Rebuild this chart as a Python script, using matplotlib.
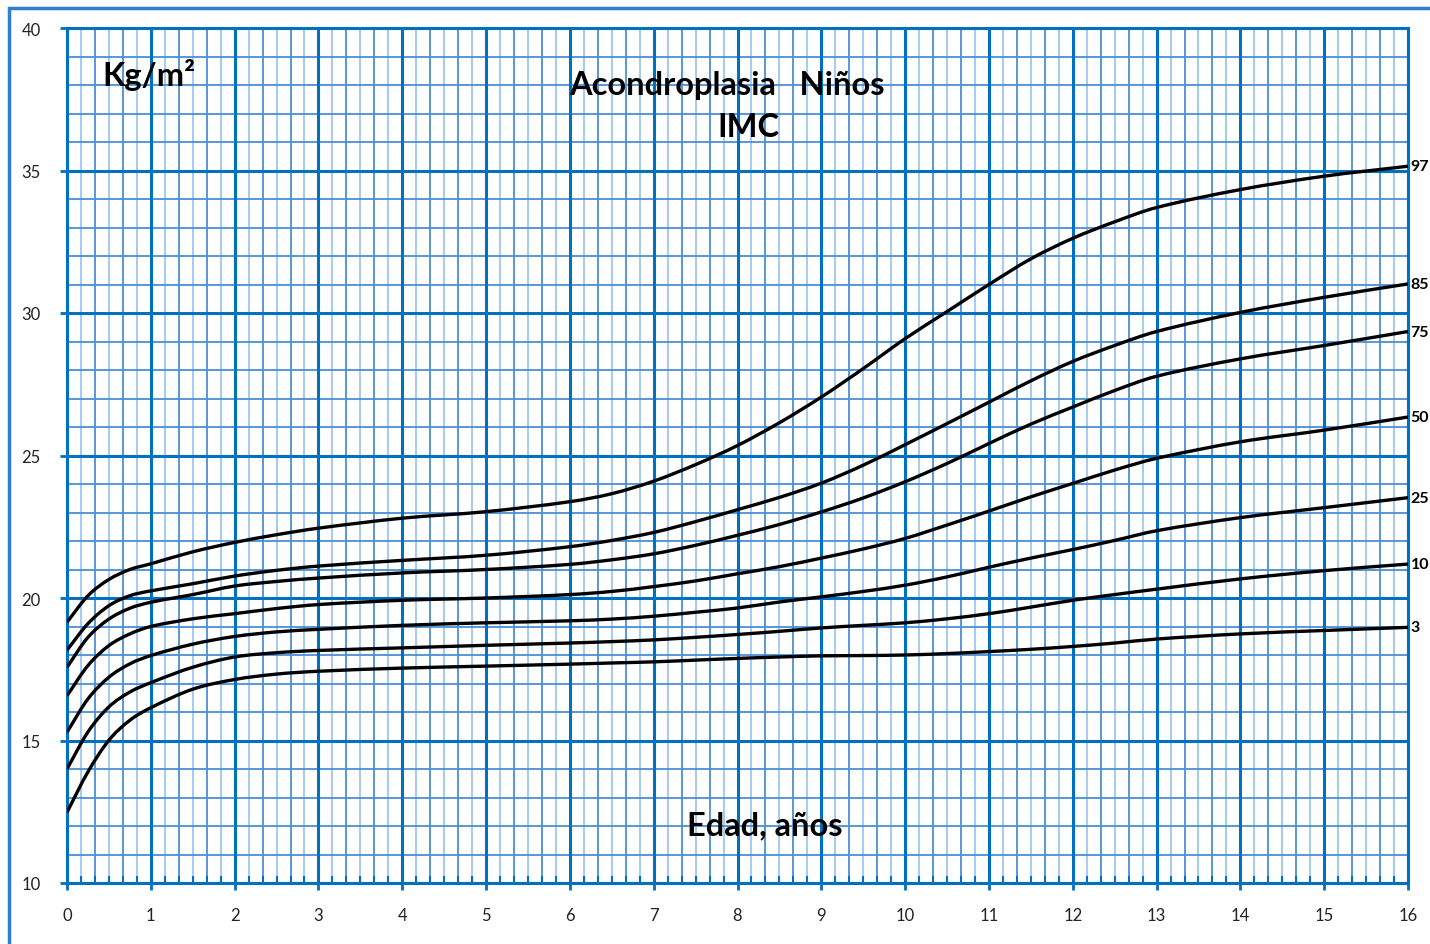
import numpy as np
import matplotlib
matplotlib.use("Agg")
import matplotlib.pyplot as plt
from matplotlib.patches import Rectangle, PathPatch
from matplotlib.path import Path

plt.rcParams['font.family'] = ['Lato', 'DejaVu Sans']

# edad (años)
ages = [0, 0.25, 0.5, 0.75, 1, 1.5, 2, 2.5, 3, 4, 5, 6, 6.5, 7, 7.5, 8, 8.5,
        9, 9.5, 10, 10.5, 11, 11.5, 12, 12.5, 13, 14, 15, 16]

# IMC por percentil
p97 = [19.15, 20.08, 20.65, 21.0, 21.2, 21.62, 21.95, 22.22, 22.45, 22.8, 23.03,
       23.38, 23.66, 24.1, 24.68, 25.35, 26.15, 27.05, 28.05, 29.1, 30.05, 31.0,
       31.9, 32.62, 33.2, 33.7, 34.33, 34.8, 35.15]
p85 = [18.17, 19.1, 19.73, 20.08, 20.25, 20.5, 20.77, 20.97, 21.12, 21.32, 21.5,
       21.8, 22.02, 22.3, 22.68, 23.1, 23.53, 24.03, 24.66, 25.38, 26.12, 26.87,
       27.62, 28.3, 28.86, 29.35, 30.02, 30.55, 31.02]
p75 = [17.57, 18.62, 19.26, 19.64, 19.85, 20.12, 20.42, 20.58, 20.7, 20.88, 21.0,
       21.18, 21.34, 21.55, 21.85, 22.2, 22.58, 23.02, 23.51, 24.08, 24.72, 25.42,
       26.1, 26.7, 27.28, 27.78, 28.39, 28.86, 29.35]
p50 = [16.57, 17.63, 18.33, 18.74, 19.0, 19.27, 19.45, 19.63, 19.77, 19.92, 20.0,
       20.12, 20.23, 20.4, 20.6, 20.85, 21.1, 21.4, 21.72, 22.09, 22.56, 23.05,
       23.55, 24.02, 24.49, 24.9, 25.48, 25.89, 26.35]
p25 = [15.29, 16.46, 17.22, 17.69, 17.98, 18.38, 18.65, 18.81, 18.9, 19.04, 19.13,
       19.2, 19.26, 19.36, 19.5, 19.65, 19.86, 20.04, 20.23, 20.45, 20.74, 21.08,
       21.4, 21.7, 22.02, 22.36, 22.82, 23.17, 23.52]
p10 = [14.0, 15.3, 16.18, 16.7, 17.03, 17.57, 17.93, 18.08, 18.16, 18.25, 18.34,
       18.42, 18.47, 18.53, 18.62, 18.72, 18.83, 18.95, 19.04, 19.13, 19.27, 19.45,
       19.68, 19.92, 20.12, 20.31, 20.67, 20.96, 21.19]
p3 = [12.48, 13.9, 15.01, 15.71, 16.15, 16.8, 17.14, 17.33, 17.43, 17.54, 17.61,
      17.68, 17.72, 17.76, 17.82, 17.88, 17.93, 17.97, 17.98, 18.0, 18.05, 18.12,
      18.2, 18.3, 18.42, 18.56, 18.74, 18.86, 18.97]

curves = [p3, p10, p25, p50, p75, p85, p97]
labels = ['3', '10', '25', '50', '75', '85', '97']

blue = '#0070C0'
mid_blue = '#4A8FD6'
light_blue = '#A9CBEE'


def smooth_path(xs, ys):
    # bezier cúbica (hermite) que pasa por los puntos leídos
    x = np.asarray(xs, float)
    y = np.asarray(ys, float)
    n = len(x)
    m = np.empty(n)
    m[0] = (y[1] - y[0]) / (x[1] - x[0])
    m[-1] = (y[-1] - y[-2]) / (x[-1] - x[-2])
    for i in range(1, n - 1):
        m[i] = (y[i + 1] - y[i - 1]) / (x[i + 1] - x[i - 1])
    verts = [(x[0], y[0])]
    codes = [Path.MOVETO]
    for i in range(n - 1):
        h = x[i + 1] - x[i]
        verts += [(x[i] + h / 3, y[i] + m[i] * h / 3),
                  (x[i + 1] - h / 3, y[i + 1] - m[i + 1] * h / 3),
                  (x[i + 1], y[i + 1])]
        codes += [Path.CURVE4] * 3
    return Path(verts, codes)


fig = plt.figure(figsize=(14.3, 9.45), dpi=100)
ax = fig.add_axes([67/1430, 61/945, 1341/1430, 855/945])
ax.set_xlim(0, 16)
ax.set_ylim(10, 40)

# papel milimetrado
for i in range(16*6 + 1):
    x = i / 6
    if i % 6 == 0:
        ax.axvline(x, color=blue, lw=2.2, zorder=1)
    elif i % 2 == 0:
        ax.axvline(x, color=mid_blue, lw=1.3, zorder=0)
    else:
        ax.axvline(x, color=light_blue, lw=1.5, zorder=0)
for y in range(10, 41):
    if y % 5 == 0:
        ax.axhline(y, color=blue, lw=2.2, zorder=1)
    else:
        ax.axhline(y, color=mid_blue, lw=1.3, zorder=0)

for vals, lab in zip(curves, labels):
    ax.add_patch(PathPatch(smooth_path(ages, vals), fill=False,
                           edgecolor='black', lw=2.4, zorder=3))
    ax.text(16.03, vals[-1], lab, fontsize=11.5, fontweight='bold',
            ha='left', va='center', clip_on=False)

for s in ax.spines.values():
    s.set_color(blue)
    s.set_linewidth(2.2)

ax.set_xticks(range(17))
ax.set_xticks(np.arange(0, 16.01, 1/6), minor=True)
ax.set_yticks(range(10, 41, 5))
ax.tick_params(axis='x', which='major', direction='inout', length=10, width=2,
               color=blue, pad=12, labelsize=12, labelcolor='#222222')
ax.tick_params(axis='x', which='minor', direction='in', length=5, width=1.5,
               color=blue)
ax.tick_params(axis='y', which='major', direction='out', length=5, width=2,
               color=blue, pad=14, labelsize=12, labelcolor='#222222')

ax.text(0.42, 38.4, 'Kg/m²', fontsize=23.5, fontweight='bold', ha='left',
        va='center', zorder=5)
ax.text(7.87, 38.03, 'Acondroplasia   Niños', fontsize=23.5, fontweight='bold',
        ha='center', va='center', zorder=5)
ax.text(8.13, 36.56, 'IMC', fontsize=23.5, fontweight='bold', ha='center',
        va='center', zorder=5)
ax.text(8.33, 12.03, 'Edad, años', fontsize=23.5, fontweight='bold',
        ha='center', va='center', zorder=5)

# marco exterior
fig.add_artist(Rectangle((9/1430, -0.05), 1.2, 1 - 9/945 + 0.05,
                         transform=fig.transFigure, fill=False,
                         edgecolor='#2E7FD0', lw=2.5))

fig.savefig('out.png', dpi=100)
